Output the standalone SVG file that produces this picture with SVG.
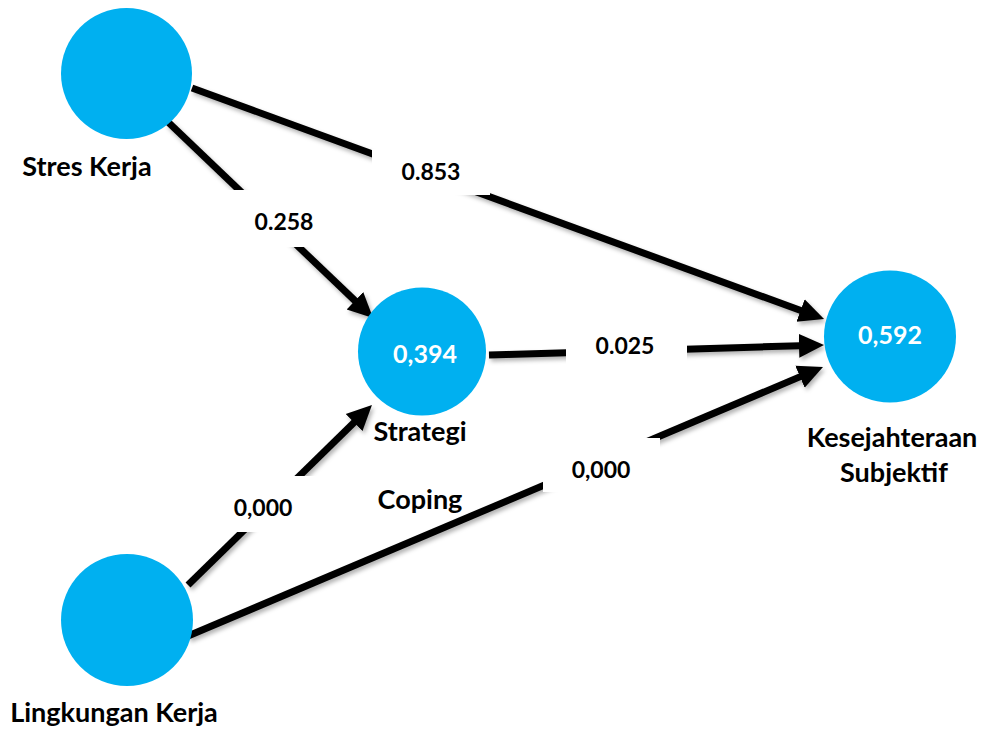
<svg xmlns="http://www.w3.org/2000/svg" width="985" height="731" viewBox="0 0 985 731">
<defs>
<marker id="ah" viewBox="0 -13 26 26" refX="1" refY="0" markerWidth="26" markerHeight="26" markerUnits="userSpaceOnUse" orient="auto">
<path d="M0,-12 L25,0 L0,12 Z" fill="#000"/>
</marker>
<filter id="sh" x="-10%" y="-10%" width="120%" height="130%">
<feDropShadow dx="2" dy="3" stdDeviation="2" flood-color="#000" flood-opacity="0.3"/>
</filter>
</defs>
<style>
.node{fill:#00B0F0}
.edge{stroke:#000;stroke-width:7;fill:none;marker-end:url(#ah)}
.bg{fill:#fff}
text{font-family:Lato,"Open Sans","Liberation Sans",sans-serif;font-weight:bold;text-anchor:middle}
.lbl{font-size:27px;fill:#000}
.val{font-size:23px;fill:#000}
.inner{font-size:25px;fill:#fff}
</style>
<rect width="985" height="731" fill="#fff"/>
<g id="connectors" filter="url(#sh)">
<line class="edge" x1="192" y1="88" x2="801.5" y2="310.8"/>
<line class="edge" x1="168" y1="122" x2="355.7" y2="301.4"/>
<line class="edge" x1="489" y1="355" x2="800" y2="345.7"/>
<line class="edge" x1="188" y1="585" x2="354.8" y2="421.8"/>
<line class="edge" x1="188" y1="636" x2="800.9" y2="376.4"/>
</g>
<g id="edge-labels">
<rect class="bg" x="372" y="149" width="118" height="46"/>
<text class="val" x="431" y="180">0.853</text>
<rect class="bg" x="226" y="190" width="118" height="57"/>
<text class="val" x="284" y="230">0.258</text>
<rect class="bg" x="566" y="328" width="121" height="37"/>
<text class="val" x="625" y="354">0.025</text>
<rect class="bg" x="200" y="476" width="130" height="56"/>
<text class="val" x="263" y="516">0,000</text>
<rect class="bg" x="543" y="438" width="117" height="54"/>
<text class="val" x="601" y="478">0,000</text>
</g>
<g id="stres-kerja">
<circle class="node" cx="126.5" cy="73.5" r="65.5"/>
<text class="lbl" x="87" y="176">Stres Kerja</text>
</g>
<g id="strategi-coping">
<circle class="node" cx="422" cy="351.5" r="64"/>
<text class="inner" x="425" y="363">0,394</text>
<text class="lbl" x="420" y="441">Strategi</text>
<text class="lbl" x="420" y="509">Coping</text>
</g>
<g id="kesejahteraan-subjektif">
<circle class="node" cx="890" cy="336.5" r="66"/>
<text class="inner" x="890" y="344">0,592</text>
<text class="lbl" x="892" y="447">Kesejahteraan</text>
<text class="lbl" x="894" y="482">Subjektif</text>
</g>
<g id="lingkungan-kerja">
<circle class="node" cx="127" cy="620" r="66"/>
<text class="lbl" x="114" y="722">Lingkungan Kerja</text>
</g>
</svg>
